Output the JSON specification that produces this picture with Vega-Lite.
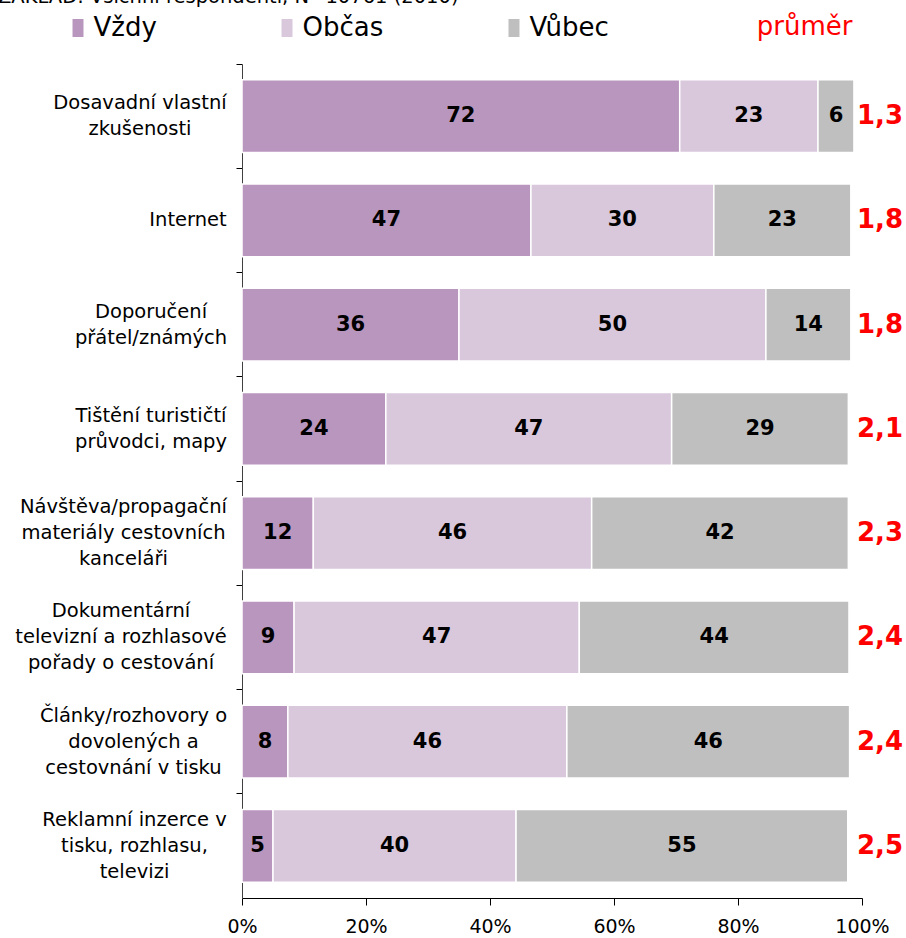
{
  "$schema": "https://vega.github.io/schema/vega-lite/v6.json",
  "autosize": "none",
  "width": 620,
  "height": 834,
  "padding": {"left": 242, "top": 64, "right": 44, "bottom": 40},
  "background": "white",
  "config": {
    "font": "DejaVu Sans",
    "view": {"stroke": null}
  },
  "title": {
    "text": "ZÁKLAD: Všichni respondenti, N=10761 (2010)",
    "anchor": "start",
    "frame": "group",
    "fontSize": 19.5,
    "fontWeight": "normal",
    "color": "#000000",
    "dx": -244,
    "dy": -6,
    "offset": 0
  },
  "datasets": {
    "bars": [
      {"kat": "Dosavadní vlastní|zkušenosti", "odp": "Vždy", "o": 1, "v": 70.6, "lab": "72"},
      {"kat": "Dosavadní vlastní|zkušenosti", "odp": "Občas", "o": 2, "v": 22.3, "lab": "23"},
      {"kat": "Dosavadní vlastní|zkušenosti", "odp": "Vůbec", "o": 3, "v": 5.8, "lab": "6"},
      {"kat": "Internet", "odp": "Vždy", "o": 1, "v": 46.6, "lab": "47"},
      {"kat": "Internet", "odp": "Občas", "o": 2, "v": 29.5, "lab": "30"},
      {"kat": "Internet", "odp": "Vůbec", "o": 3, "v": 22.1, "lab": "23"},
      {"kat": "Doporučení|přátel/známých", "odp": "Vždy", "o": 1, "v": 35.0, "lab": "36"},
      {"kat": "Doporučení|přátel/známých", "odp": "Občas", "o": 2, "v": 49.5, "lab": "50"},
      {"kat": "Doporučení|přátel/známých", "odp": "Vůbec", "o": 3, "v": 13.7, "lab": "14"},
      {"kat": "Tištění turističtí|průvodci, mapy", "odp": "Vždy", "o": 1, "v": 23.2, "lab": "24"},
      {"kat": "Tištění turističtí|průvodci, mapy", "odp": "Občas", "o": 2, "v": 46.1, "lab": "47"},
      {"kat": "Tištění turističtí|průvodci, mapy", "odp": "Vůbec", "o": 3, "v": 28.5, "lab": "29"},
      {"kat": "Návštěva/propagační|materiály cestovních|kanceláři", "odp": "Vždy", "o": 1, "v": 11.5, "lab": "12"},
      {"kat": "Návštěva/propagační|materiály cestovních|kanceláři", "odp": "Občas", "o": 2, "v": 44.9, "lab": "46"},
      {"kat": "Návštěva/propagační|materiály cestovních|kanceláři", "odp": "Vůbec", "o": 3, "v": 41.4, "lab": "42"},
      {"kat": "Dokumentární|televizní a rozhlasové|pořady o cestování", "odp": "Vždy", "o": 1, "v": 8.4, "lab": "9"},
      {"kat": "Dokumentární|televizní a rozhlasové|pořady o cestování", "odp": "Občas", "o": 2, "v": 46.0, "lab": "47"},
      {"kat": "Dokumentární|televizní a rozhlasové|pořady o cestování", "odp": "Vůbec", "o": 3, "v": 43.5, "lab": "44"},
      {"kat": "Články/rozhovory o|dovolených a|cestovnání v tisku", "odp": "Vždy", "o": 1, "v": 7.4, "lab": "8"},
      {"kat": "Články/rozhovory o|dovolených a|cestovnání v tisku", "odp": "Občas", "o": 2, "v": 45.0, "lab": "46"},
      {"kat": "Články/rozhovory o|dovolených a|cestovnání v tisku", "odp": "Vůbec", "o": 3, "v": 45.6, "lab": "46"},
      {"kat": "Reklamní inzerce v|tisku, rozhlasu,|televizi", "odp": "Vždy", "o": 1, "v": 5.0, "lab": "5"},
      {"kat": "Reklamní inzerce v|tisku, rozhlasu,|televizi", "odp": "Občas", "o": 2, "v": 39.2, "lab": "40"},
      {"kat": "Reklamní inzerce v|tisku, rozhlasu,|televizi", "odp": "Vůbec", "o": 3, "v": 53.5, "lab": "55"}
    ],
    "avg": [
      {"kat": "Dosavadní vlastní|zkušenosti", "x": 100, "prumer": "1,3"},
      {"kat": "Internet", "x": 100, "prumer": "1,8"},
      {"kat": "Doporučení|přátel/známých", "x": 100, "prumer": "1,8"},
      {"kat": "Tištění turističtí|průvodci, mapy", "x": 100, "prumer": "2,1"},
      {"kat": "Návštěva/propagační|materiály cestovních|kanceláři", "x": 100, "prumer": "2,3"},
      {"kat": "Dokumentární|televizní a rozhlasové|pořady o cestování", "x": 100, "prumer": "2,4"},
      {"kat": "Články/rozhovory o|dovolených a|cestovnání v tisku", "x": 100, "prumer": "2,4"},
      {"kat": "Reklamní inzerce v|tisku, rozhlasu,|televizi", "x": 100, "prumer": "2,5"}
    ]
  },
  "resolve": {"axis": {"x": "independent"}},
  "layer": [
    {
      "data": {"name": "bars"},
      "mark": {"type": "bar", "stroke": "white", "strokeWidth": 1.5},
      "encoding": {
        "y": {
          "field": "kat", "type": "nominal", "sort": null,
          "scale": {"paddingInner": 0.3, "paddingOuter": 0.15},
          "axis": {
            "title": null,
            "labelExpr": "split(datum.label, '|')",
            "labelFontSize": 19.5,
            "labelLineHeight": 26,
            "labelColor": "#000000",
            "labelAlign": "center",
            "labelPadding": {
              "condition": [
                {"test": "indexof(datum.value, 'Dosavadní') == 0", "value": 96.5},
                {"test": "datum.value == 'Internet'", "value": 48.5},
                {"test": "indexof(datum.value, 'Doporučení') == 0", "value": 85.5},
                {"test": "indexof(datum.value, 'Tištění') == 0", "value": 85.5},
                {"test": "indexof(datum.value, 'Návštěva') == 0", "value": 113},
                {"test": "indexof(datum.value, 'Dokumentární') == 0", "value": 115.5},
                {"test": "indexof(datum.value, 'Články') == 0", "value": 103},
                {"test": "indexof(datum.value, 'Reklamní') == 0", "value": 102}
              ],
              "value": 10
            },
            "labelLimit": 300,
            "labelOffset": {
              "condition": [
                {"test": "length(split(datum.value, '|')) == 3", "value": -26},
                {"test": "length(split(datum.value, '|')) == 2", "value": -13}
              ],
              "value": 0
            },
            "tickSize": 6,
            "tickColor": "#000000",
            "domainColor": "#404040",
            "bandPosition": -0.214
          }
        },
        "x": {
          "field": "v", "type": "quantitative", "stack": "zero",
          "scale": {"domain": [0, 100], "nice": false},
          "axis": {
            "title": null,
            "values": [0, 20, 40, 60, 80, 100],
            "labelExpr": "datum.value + '%'",
            "labelFontSize": 19,
            "labelFlush": false,
            "labelColor": "#000000",
            "labelPadding": 12,
            "tickSize": 7,
            "tickColor": "#000000",
            "domainColor": "#000000",
            "grid": false
          }
        },
        "color": {
          "field": "odp", "type": "nominal",
          "scale": {"domain": ["Vždy", "Občas", "Vůbec"], "range": ["#B996BE", "#D9C7DC", "#BFBFBF"]},
          "legend": {
            "title": null,
            "orient": "none",
            "direction": "horizontal",
            "legendX": -177,
            "legendY": -49,
            "columns": 3,
            "columnPadding": 117,
            "padding": 0,
            "symbolType": "M-0.61,-1H0.61V1H-0.61Z",
            "symbolSize": 324,
            "symbolStrokeWidth": 0,
            "symbolOpacity": 1,
            "labelOffset": 2.5,
            "labelFontSize": 26,
            "labelColor": "#000000",
            "labelLimit": 200
          }
        },
        "order": {"field": "o", "type": "quantitative"}
      }
    },
    {
      "data": {"name": "bars"},
      "mark": {"type": "text", "fontSize": 21, "fontWeight": "bold", "color": "#000000", "baseline": "middle", "align": "center"},
      "encoding": {
        "y": {"field": "kat", "type": "nominal", "sort": null},
        "x": {"field": "v", "type": "quantitative", "stack": "zero", "bandPosition": 0.5, "axis": null},
        "detail": {"field": "odp"},
        "order": {"field": "o", "type": "quantitative"},
        "text": {"field": "lab"}
      }
    },
    {
      "data": {"name": "avg"},
      "mark": {"type": "text", "fontSize": 26, "fontWeight": "bold", "color": "#FF0000", "baseline": "middle", "align": "left", "dx": -5},
      "encoding": {
        "y": {"field": "kat", "type": "nominal", "sort": null},
        "x": {
          "field": "x", "type": "quantitative",
          "axis": {
            "orient": "top",
            "title": "průměr",
            "titleColor": "#FF0000",
            "titleFontSize": 26,
            "titleFontWeight": "normal",
            "titleAnchor": "end",
            "titleX": 610,
            "titleAlign": "right",
            "titlePadding": 25,
            "labels": false,
            "ticks": false,
            "domain": false,
            "grid": false
          }
        },
        "text": {"field": "prumer"}
      }
    }
  ]
}
